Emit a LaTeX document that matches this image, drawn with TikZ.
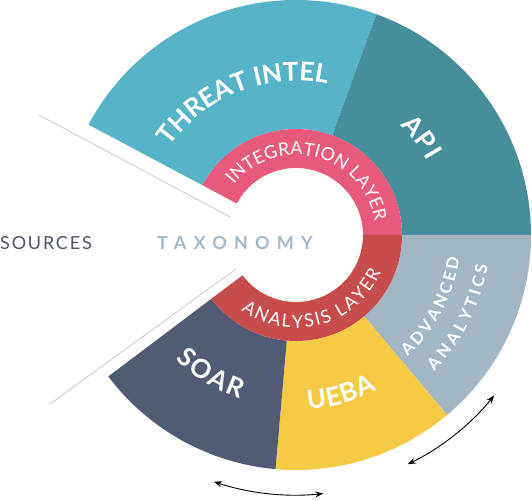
\documentclass[tikz,border=0pt]{standalone}
\usepackage{fontspec}
\setmainfont{Lato}
\usetikzlibrary{arrows.meta,decorations.text}

\definecolor{threatblue}{HTML}{57B4C8}
\definecolor{apiteal}{HTML}{468E9C}
\definecolor{advgray}{HTML}{A2B6C4}
\definecolor{uebayellow}{HTML}{F5CB46}
\definecolor{soarslate}{HTML}{515B75}
\definecolor{integpink}{HTML}{E85A7B}
\definecolor{analysisred}{HTML}{C64D4B}
\definecolor{linegray}{HTML}{C4C4C4}
\definecolor{srcgray}{HTML}{4D5566}
\definecolor{taxblue}{HTML}{A3B8C8}

% annular sector: colour, from, to, inner radius, outer radius
\newcommand\ringpart[5]{%
  \fill[#1] (#2:#4) arc[start angle=#2, end angle=#3, radius=#4]
    -- (#3:#5) arc[start angle=#3, end angle=#2, radius=#5] -- cycle;}

\newcommand\ringfont{\fontsize{18}{18}\selectfont}
\newcommand\bigfont{\fontsize{26}{26}\selectfont\bfseries}
\newcommand\midfont{\fontsize{16.5}{16.5}\selectfont\bfseries}

\tikzset{
  arclabel/.style={decorate, decoration={text along path, text color=white,
      text align=fit to path, text={#1}}},
  twoway/.style={{Stealth[length=8pt,width=6pt]}-{Stealth[length=8pt,width=6pt]}, line width=.9pt},
  guide/.style={draw=linegray, line width=.7pt}
}

\begin{document}
\begin{tikzpicture}[x=1pt, y=1pt]
  \useasboundingbox (-296,-265) rectangle (236,235);

  % outer segments
  \ringpart{threatblue}{152}{70}{106}{235}
  \ringpart{apiteal}{70}{0}{106}{235}
  \ringpart{advgray}{0}{-50}{106}{235}
  \ringpart{uebayellow}{-50}{-95}{106}{235}
  \ringpart{soarslate}{-95}{-143}{106}{235}
  % inner layers
  \ringpart{integpink}{152}{0}{67}{106}
  \ringpart{analysisred}{0}{-143}{67}{106}

  % labels along the ring
  \path[arclabel={|\ringfont|INTEGRATION LAYER}] (141:80) arc[start angle=141, end angle=10, radius=80];
  \path[arclabel={|\ringfont|ANALYSIS LAYER}] (-126:93) arc[start angle=-126, end angle=-24, radius=93];
  \path[arclabel={|\bigfont|THREAT INTEL}] (145:154) arc[start angle=145, end angle=79, radius=154];
  \path[arclabel={|\bigfont|API}] (46.5:151) arc[start angle=46.5, end angle=29.5, radius=151];
  \path[arclabel={|\midfont|ADVANCED}] (-47.5:165) arc[start angle=-47.5, end angle=-8, radius=165];
  \path[arclabel={|\midfont|ANALYTICS}] (-44.5:194) arc[start angle=-44.5, end angle=-9, radius=194];
  \path[arclabel={|\bigfont|SOAR}] (-134:173) arc[start angle=-134, end angle=-109, radius=173];
  \path[arclabel={|\bigfont|UEBA}] (-86:175) arc[start angle=-86, end angle=-62.5, radius=175];

  % sources wedge
  \coordinate (upA) at (-257,120);
  \coordinate (upB) at (-66,18);
  \coordinate (loA) at (-246,-169);
  \coordinate (loB) at (-60,-34);
  \draw[guide] (upA) -- (upB);
  \draw[guide] (loA) -- (loB);

  \node[anchor=base west, inner sep=0, text=srcgray, font=\fontsize{18}{18}\selectfont\addfontfeatures{LetterSpace=10}] (sources) at (-296,-15) {SOURCES};
  \node[anchor=base, inner sep=0, text=taxblue, font=\fontsize{18}{18}\selectfont\bfseries\addfontfeatures{LetterSpace=40}] (taxonomy) at (-61,-15) {TAXONOMY};

  % arrows
  \coordinate (soarEnd) at (-108.4:260);
  \coordinate (advEnd) at (-64:255);
  \draw[twoway] (soarEnd) arc[start angle=-108.4, end angle=-84, radius=260];
  \draw[twoway] (advEnd) arc[start angle=-64, end angle=-39, radius=255];
\end{tikzpicture}
\end{document}
